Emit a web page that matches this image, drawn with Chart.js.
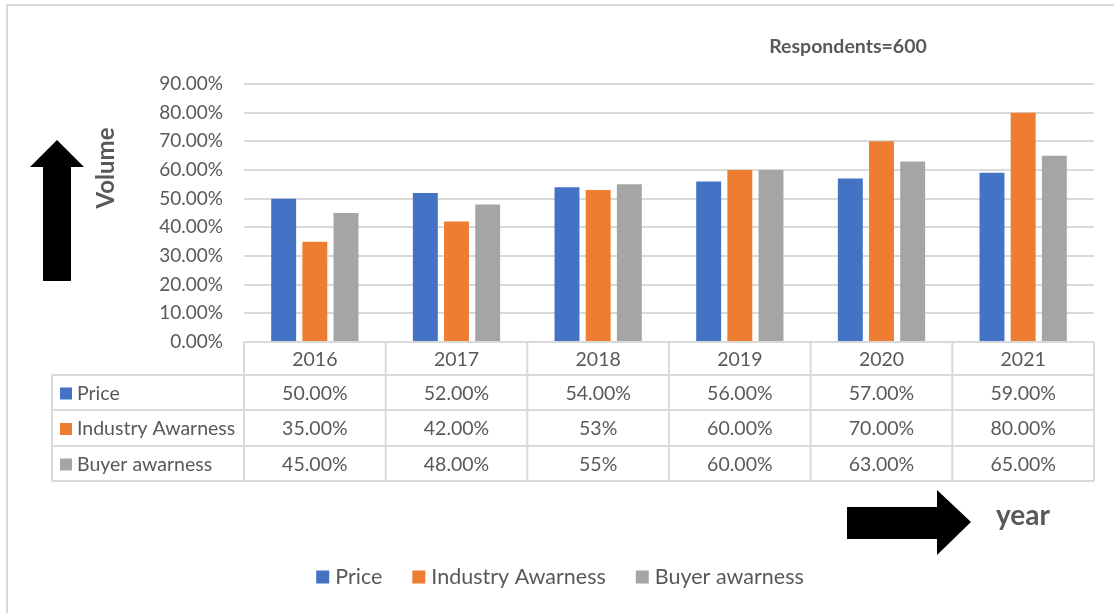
<!DOCTYPE html>
<html>
<head>
<meta charset="utf-8">
<script src="https://cdn.jsdelivr.net/npm/chart.js@4.4.0/dist/chart.umd.min.js"></script>
<style>
  html, body { margin: 0; padding: 0; background: #fff; }
  #wrap { width: 1114px; height: 613px; position: relative; }
</style>
</head>
<body>
<div id="wrap"><canvas id="c" width="1114" height="613"></canvas></div>
<script>
const years = ['2016', '2017', '2018', '2019', '2020', '2021'];
const seriesNames = ['Price', 'Industry Awarness', 'Buyer awarness'];
const priceValues = [50, 52, 54, 56, 57, 59];
const industryValues = [35, 42, 53, 60, 70, 80];
const buyerValues = [45, 48, 55, 60, 63, 65];
const priceTableLabels = ['50.00%', '52.00%', '54.00%', '56.00%', '57.00%', '59.00%'];
const industryTableLabels = ['35.00%', '42.00%', '53%', '60.00%', '70.00%', '80.00%'];
const buyerTableLabels = ['45.00%', '48.00%', '55%', '60.00%', '63.00%', '65.00%'];
const seriesColors = ['#4472C4', '#ED7D31', '#A5A5A5'];
const noteText = 'Respondents=600';
const yAxisTitle = 'Volume';
const xAxisTitle = 'year';

const TEXT = '#595959';
const LINE = '#D9D9D9';
const FONT = 'Lato, "Open Sans", sans-serif';

const extras = {
  id: 'extras',
  afterDraw(chart) {
    const ctx = chart.ctx;
    const area = chart.chartArea;
    const n = years.length;
    const colW = (area.right - area.left) / n;
    ctx.save();

    // outer frame (left and top edges visible)
    ctx.strokeStyle = LINE;
    ctx.lineWidth = 2;
    ctx.beginPath();
    ctx.moveTo(7, 613); ctx.lineTo(7, 5); ctx.lineTo(1114, 5);
    ctx.stroke();

    // data table
    const tableLeft = 52;
    const rowsY = [342, 375, 410, 446, 481];
    ctx.strokeStyle = LINE;
    ctx.lineWidth = 2;
    ctx.beginPath();
    ctx.moveTo(area.left, rowsY[0]); ctx.lineTo(area.right, rowsY[0]);
    for (let r = 1; r < rowsY.length; r++) {
      ctx.moveTo(tableLeft, rowsY[r]); ctx.lineTo(area.right, rowsY[r]);
    }
    for (let i = 0; i <= n; i++) {
      const x = area.left + i * colW;
      ctx.moveTo(x, rowsY[0]); ctx.lineTo(x, rowsY[4]);
    }
    ctx.moveTo(tableLeft, rowsY[1]); ctx.lineTo(tableLeft, rowsY[4]);
    ctx.stroke();

    ctx.fillStyle = TEXT;
    ctx.font = '19.5px ' + FONT;
    ctx.textAlign = 'center';
    ctx.textBaseline = 'middle';
    years.forEach((y, i) => {
      ctx.fillText(y, area.left + (i + 0.5) * colW, (rowsY[0] + rowsY[1]) / 2 + 1);
    });
    const tableRows = [priceTableLabels, industryTableLabels, buyerTableLabels];
    tableRows.forEach((row, r) => {
      const cy = (rowsY[r + 1] + rowsY[r + 2]) / 2 + 1;
      row.forEach((lab, i) => {
        ctx.fillStyle = TEXT;
        ctx.textAlign = 'center';
        ctx.fillText(lab, area.left + (i + 0.5) * colW, cy);
      });
      ctx.fillStyle = seriesColors[r];
      ctx.fillRect(60, cy - 6, 12, 12);
      ctx.fillStyle = TEXT;
      ctx.textAlign = 'left';
      ctx.fillText(seriesNames[r], 77, cy);
    });

    // note
    ctx.fillStyle = TEXT;
    ctx.font = 'bold 19.5px ' + FONT;
    ctx.textAlign = 'center';
    ctx.fillText(noteText, 848, 47);

    // y axis title
    ctx.save();
    ctx.translate(106, 168);
    ctx.rotate(-Math.PI / 2);
    ctx.font = 'bold 24px ' + FONT;
    ctx.textAlign = 'center';
    ctx.textBaseline = 'middle';
    ctx.fillText(yAxisTitle, 0, 0);
    ctx.restore();

    // x axis title
    ctx.font = 'bold 28px ' + FONT;
    ctx.textAlign = 'left';
    ctx.textBaseline = 'middle';
    ctx.fillText(xAxisTitle, 996, 516);

    // up arrow
    ctx.fillStyle = '#000';
    ctx.beginPath();
    ctx.moveTo(57, 140); ctx.lineTo(84, 167); ctx.lineTo(71, 167); ctx.lineTo(71, 281);
    ctx.lineTo(43, 281); ctx.lineTo(43, 167); ctx.lineTo(30, 167); ctx.closePath();
    ctx.fill();

    // right arrow
    ctx.beginPath();
    ctx.moveTo(847, 507); ctx.lineTo(937, 507); ctx.lineTo(937, 490); ctx.lineTo(971, 522);
    ctx.lineTo(937, 555); ctx.lineTo(937, 539); ctx.lineTo(847, 539); ctx.closePath();
    ctx.fill();

    // legend
    ctx.font = '21.5px ' + FONT;
    ctx.textBaseline = 'middle';
    const box = 13, gapBox = 6, gapItem = 30;
    const widths = seriesNames.map(s => box + gapBox + ctx.measureText(s).width);
    const total = widths.reduce((a, b) => a + b, 0) + gapItem * (widths.length - 1);
    let lx = 560 - total / 2;
    const ly = 577;
    seriesNames.forEach((s, i) => {
      ctx.fillStyle = seriesColors[i];
      ctx.fillRect(lx, ly - box / 2, box, box);
      ctx.fillStyle = TEXT;
      ctx.textAlign = 'left';
      ctx.fillText(s, lx + box + gapBox, ly);
      lx += widths[i] + gapItem;
    });

    ctx.restore();
  }
};

new Chart(document.getElementById('c'), {
  type: 'bar',
  data: {
    labels: years,
    datasets: [
      { label: seriesNames[0], data: priceValues, backgroundColor: seriesColors[0] },
      { label: seriesNames[1], data: industryValues, backgroundColor: seriesColors[1] },
      { label: seriesNames[2], data: buyerValues, backgroundColor: seriesColors[2] }
    ]
  },
  options: {
    responsive: false,
    animation: false,
    layout: { padding: { left: 0, right: 20, top: 84, bottom: 271 } },
    datasets: { bar: { categoryPercentage: 0.66, barPercentage: 0.8 } },
    plugins: { legend: { display: false }, tooltip: { enabled: false } },
    scales: {
      x: { display: false },
      y: {
        min: 0, max: 90,
        afterFit(scale) { scale.width = 244; },
        ticks: {
          stepSize: 10,
          padding: 21,
          color: TEXT,
          font: { family: FONT, size: 19 },
          callback: v => v.toFixed(2) + '%'
        },
        grid: { color: LINE, lineWidth: 2, drawTicks: false },
        border: { display: false }
      }
    }
  },
  plugins: [extras]
});
</script>
</body>
</html>
